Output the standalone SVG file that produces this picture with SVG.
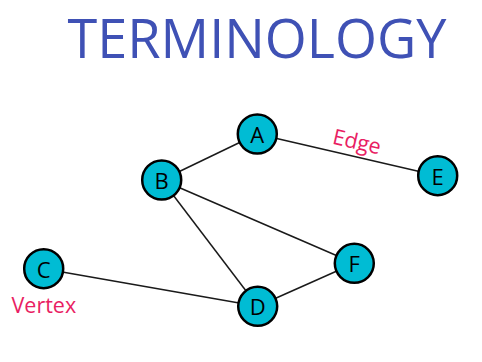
<svg xmlns="http://www.w3.org/2000/svg" width="482" height="362" viewBox="0 0 482 362">
  <style>
    .title { font-family: "Open Sans", "Liberation Sans", sans-serif; font-size: 54px; fill: #3F51B5; }
    .node circle { fill: #00BCD4; stroke: #000; stroke-width: 2.5; }
    .node text { font-family: "Open Sans", "Liberation Sans", sans-serif; font-size: 22px; fill: #000; text-anchor: middle; dominant-baseline: central; }
    .edges line { stroke: #1a1a1a; stroke-width: 1.5; }
    .note { font-family: "Open Sans", "Liberation Sans", sans-serif; font-size: 21.5px; fill: #E91E63; }
  </style>
  <rect width="482" height="362" fill="#fff"/>
  <text class="title" x="257" y="57.5" text-anchor="middle">TERMINOLOGY</text>

  <g id="edges" class="edges">
    <line x1="257.3" y1="134" x2="161.7" y2="180"/>
    <line x1="257.3" y1="134" x2="437.7" y2="175.7"/>
    <line x1="161.7" y1="180" x2="257.7" y2="306.3"/>
    <line x1="161.7" y1="180" x2="354.3" y2="263.3"/>
    <line x1="43.7" y1="268.7" x2="257.7" y2="306.3"/>
    <line x1="257.7" y1="306.3" x2="354.3" y2="263.3"/>
  </g>

  <g id="node-A" class="node"><circle cx="257.3" cy="134" r="19.5"/><text x="257.3" y="134">A</text></g>
  <g id="node-B" class="node"><circle cx="161.7" cy="180" r="19.5"/><text x="161.7" y="180">B</text></g>
  <g id="node-C" class="node"><circle cx="43.7" cy="268.7" r="19.5"/><text x="43.7" y="268.7">C</text></g>
  <g id="node-D" class="node"><circle cx="257.7" cy="306.3" r="19.5"/><text x="257.7" y="306.3">D</text></g>
  <g id="node-E" class="node"><circle cx="437.7" cy="175.7" r="19.5"/><text x="437.7" y="175.7">E</text></g>
  <g id="node-F" class="node"><circle cx="354.3" cy="263.3" r="19.5"/><text x="354.3" y="263.3">F</text></g>

  <text class="note" x="331.5" y="143.5" transform="rotate(13 331.5 143.5)">Edge</text>
  <text class="note" x="11.5" y="313">Vertex</text>
</svg>
